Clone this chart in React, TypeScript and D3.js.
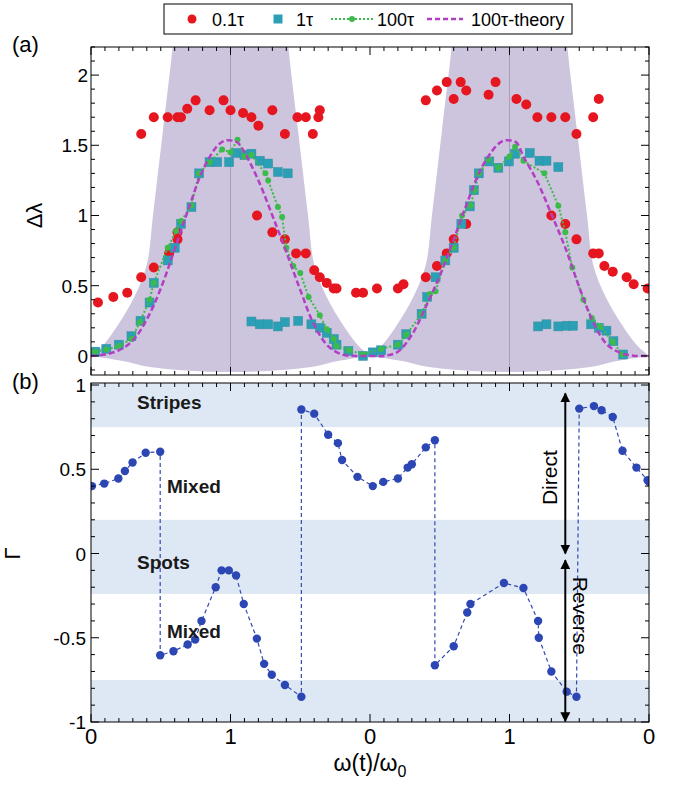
import React from 'react';
import * as d3 from 'd3';

// ---- data ----
// panel (a): x is the phase along the cycle 0..4, shown as ω/ω0 = 0,1,0,1,0
const xTickLabels = ['0', '1', '0', '1', '0'];

const red01: [number, number][] = [
  [0.05, 0.38], [0.16, 0.42], [0.26, 0.45], [0.36, 0.56], [0.36, 1.58], [0.45, 0.63], [0.45, 1.70],
  [0.55, 1.70], [0.56, 0.73], [0.62, 1.70], [0.645, 1.70], [0.62, 0.83], [0.62, 0.88], [0.69, 1.76],
  [0.75, 1.82], [0.85, 1.75], [0.95, 1.82], [1.0, 1.75], [1.09, 1.73], [1.15, 1.70], [1.20, 1.64],
  [1.19, 1.00], [1.30, 1.75], [1.30, 0.88], [1.39, 1.58], [1.39, 0.83], [1.47, 0.73], [1.54, 1.70],
  [1.54, 0.73], [1.48, 1.70], [1.59, 1.58], [1.60, 0.61], [1.64, 1.75], [1.63, 1.70], [1.64, 0.56],
  [1.69, 0.52], [1.74, 0.48], [1.76, 0.48], [1.90, 0.45], [1.95, 0.45], [2.05, 0.48], [2.20, 0.48],
  [2.24, 0.51], [2.40, 0.56], [2.40, 1.82], [2.48, 1.89], [2.48, 0.64], [2.55, 1.95], [2.55, 0.73],
  [2.60, 0.83], [2.60, 1.83], [2.65, 1.95], [2.69, 1.89], [2.69, 0.94], [2.85, 1.86], [2.90, 1.95],
  [3.05, 1.83], [3.12, 1.79], [3.20, 1.70], [3.30, 1.70], [3.30, 1.00], [3.40, 1.70], [3.40, 0.94],
  [3.48, 1.58], [3.48, 0.83], [3.60, 1.70], [3.60, 0.73], [3.64, 1.83], [3.64, 0.73], [3.68, 0.64],
  [3.74, 0.60], [3.84, 0.56], [3.89, 0.51], [3.99, 0.48],
];

const teal1: [number, number][] = [
  [0.03, 0.03], [0.11, 0.05], [0.20, 0.08], [0.29, 0.14], [0.355, 0.25], [0.42, 0.38], [0.45, 0.52],
  [0.55, 0.68], [0.60, 0.77], [0.645, 0.94], [0.72, 1.06], [0.775, 1.30], [0.85, 1.38], [0.905, 1.38],
  [0.99, 1.38], [1.04, 1.445], [1.10, 1.43], [1.15, 1.44], [1.21, 1.39], [1.27, 1.37], [1.34, 1.31],
  [1.41, 1.30], [1.15, 0.245], [1.21, 0.225], [1.27, 0.225], [1.34, 0.21], [1.39, 0.24], [1.485, 0.25],
  [1.58, 0.225], [1.64, 0.20], [1.69, 0.165], [1.74, 0.12], [1.76, 0.08], [1.845, 0.035], [1.95, 0.0],
  [2.02, 0.025], [2.08, 0.04], [2.20, 0.08], [2.26, 0.155], [2.37, 0.30], [2.41, 0.42], [2.47, 0.56],
  [2.54, 0.68], [2.60, 0.77], [2.655, 0.94], [2.715, 1.065], [2.745, 1.18], [2.78, 1.30], [2.855, 1.385],
  [2.92, 1.34], [2.995, 1.385], [3.04, 1.44], [3.145, 1.445], [3.215, 1.39], [3.265, 1.39], [3.35, 1.345],
  [3.205, 0.21], [3.265, 0.225], [3.35, 0.21], [3.41, 0.215], [3.455, 0.215], [3.585, 0.225],
  [3.64, 0.20], [3.695, 0.18], [3.745, 0.105], [3.815, 0.01],
];

const green100: [number, number][] = [
  [0.03, 0.03], [0.11, 0.045], [0.20, 0.07], [0.29, 0.12], [0.35, 0.24], [0.42, 0.40], [0.45, 0.52],
  [0.55, 0.77], [0.61, 0.89], [0.645, 0.96], [0.72, 1.07], [0.775, 1.30], [0.85, 1.38], [0.94, 1.47],
  [1.0, 1.45], [1.05, 1.54], [1.10, 1.42], [1.15, 1.43], [1.25, 1.30], [1.27, 1.25], [1.34, 1.06],
  [1.37, 0.99], [1.40, 0.77], [1.45, 0.64], [1.50, 0.59], [1.56, 0.42], [1.64, 0.29], [1.69, 0.19],
  [1.74, 0.12], [1.76, 0.07], [1.85, 0.04], [1.95, 0.01], [2.08, 0.05], [2.20, 0.08], [2.26, 0.15],
  [2.37, 0.30], [2.43, 0.44], [2.47, 0.46], [2.54, 0.68], [2.60, 0.77], [2.66, 1.00], [2.72, 1.07],
  [2.75, 1.18], [2.78, 1.30], [2.85, 1.40], [2.92, 1.34], [3.00, 1.42], [3.04, 1.49], [3.10, 1.39],
  [3.25, 1.30], [3.35, 1.07], [3.40, 0.88], [3.45, 0.63], [3.53, 0.40], [3.59, 0.27], [3.65, 0.21],
  [3.74, 0.10], [3.81, 0.01],
];

const theory100: [number, number][] = [
  [0, 0], [0.1, 0.01], [0.2, 0.04], [0.3, 0.11], [0.4, 0.26], [0.5, 0.48], [0.6, 0.76], [0.7, 1.05],
  [0.8, 1.32], [0.9, 1.49], [0.95, 1.53], [1.0, 1.535], [1.05, 1.52], [1.1, 1.45], [1.2, 1.25],
  [1.3, 1.0], [1.4, 0.74], [1.5, 0.47], [1.6, 0.22], [1.7, 0.07], [1.8, 0.01], [1.9, 0], [2.0, 0],
  [2.1, 0.0], [2.2, 0.03], [2.3, 0.15], [2.4, 0.35], [2.5, 0.57], [2.6, 0.83], [2.7, 1.10], [2.8, 1.34],
  [2.9, 1.49], [2.95, 1.53], [3.0, 1.535], [3.05, 1.52], [3.1, 1.42], [3.2, 1.24], [3.3, 1.01],
  [3.4, 0.77], [3.5, 0.49], [3.6, 0.24], [3.7, 0.08], [3.8, 0.02], [3.9, 0], [4.0, 0],
];

// shaded region around each resonance: [half width, Δλ] for the upper edges, [offset, Δλ] for the lower edge
const shadeCenters = [1, 3];
const shadeUpper: [number, number][] = [
  [1.0, 0], [0.91, 0.08], [0.80, 0.23], [0.69, 0.42], [0.60, 0.65], [0.556, 1.0], [0.485, 1.6], [0.415, 2.2], [0.40, 2.4],
];
const shadeLower: [number, number][] = [
  [1.0, 0], [0.77, -0.036], [0.6, -0.075], [0.3, -0.105], [0, -0.115],
];

// panel (b)
const gamma: [number, number][] = [
  [0.007, 0.40], [0.095, 0.415], [0.196, 0.445], [0.243, 0.49], [0.298, 0.54], [0.392, 0.598], [0.496, 0.604],
  [0.496, -0.604], [0.591, -0.58], [0.693, -0.54], [0.747, -0.51], [0.792, -0.40], [0.894, -0.20],
  [0.936, -0.10], [0.988, -0.10], [1.040, -0.13], [1.095, -0.30], [1.189, -0.505], [1.241, -0.655],
  [1.296, -0.72], [1.390, -0.78], [1.508, -0.85], [1.508, 0.855], [1.60, 0.83], [1.70, 0.705],
  [1.77, 0.655], [1.80, 0.555], [1.91, 0.455], [2.02, 0.40], [2.095, 0.425], [2.20, 0.445], [2.27, 0.51],
  [2.30, 0.53], [2.40, 0.63], [2.465, 0.672], [2.465, -0.663], [2.60, -0.55], [2.697, -0.35], [2.72, -0.30],
  [2.96, -0.175], [3.10, -0.205], [3.205, -0.40], [3.21, -0.50], [3.30, -0.70], [3.41, -0.82], [3.48, -0.85],
  [3.50, 0.86], [3.605, 0.875], [3.66, 0.85], [3.74, 0.81], [3.81, 0.61], [3.91, 0.51], [3.99, 0.435], [4.0, 0.425],
];
const bands: [number, number][] = [[0.75, 1.02], [-0.24, 0.2], [-1, -0.75]];
const regionLabels = [
  { text: 'Stripes', x: 0.33, y: 0.855 },
  { text: 'Mixed', x: 0.545, y: 0.36 },
  { text: 'Spots', x: 0.33, y: -0.09 },
  { text: 'Mixed', x: 0.545, y: -0.5 },
];
const arrowX = 3.4;

const FONT = 'Liberation Sans, Arial, sans-serif';
const C = {
  red: '#e5161f', teal: '#2a9fb6', green: '#3dbb4a', magenta: '#b23fc4',
  shade: '#cdc5dd', blue: '#2c46b4', band: '#dde8f4',
};

const L = 91, R = 649;
const x = d3.scaleLinear().domain([0, 4]).range([L, R]);
const yA = d3.scaleLinear().domain([-0.136, 2.2]).range([375, 47]);
const yB = d3.scaleLinear().domain([-1, 1.012]).range([722, 383]);

function Ticks({ y }: { y: d3.ScaleLinear<number, number> }) {
  const [y0, y1] = y.range();
  const [d0, d1] = y.domain();
  const xt = d3.range(0, 40.5).map(i => i / 10);
  const yt = d3.range(Math.ceil(d0 * 10), Math.floor(d1 * 10) + 1).map(i => i / 10);
  const out: JSX.Element[] = [];
  xt.forEach((v, i) => {
    const len = Math.abs(v - Math.round(v)) < 1e-6 ? 8 : 4;
    out.push(<line key={'xb' + i} x1={x(v)} x2={x(v)} y1={y0} y2={y0 - len} />);
    out.push(<line key={'xt' + i} x1={x(v)} x2={x(v)} y1={y1} y2={y1 + len} />);
  });
  yt.forEach((v, i) => {
    const len = Math.abs(v * 2 - Math.round(v * 2)) < 1e-6 ? 8 : 4;
    out.push(<line key={'yl' + i} x1={L} x2={L + len} y1={y(v)} y2={y(v)} />);
    out.push(<line key={'yr' + i} x1={R} x2={R - len} y1={y(v)} y2={y(v)} />);
  });
  return <g stroke="#000" strokeWidth={1}>{out}</g>;
}

export default function App() {
  const lineA = d3.line<[number, number]>().x(d => x(d[0])).y(d => yA(d[1]));
  const smooth = d3.line<[number, number]>().x(d => x(d[0])).y(d => yA(d[1])).curve(d3.curveCatmullRom);
  const lineB = d3.line<[number, number]>().x(d => x(d[0])).y(d => yB(d[1]));

  const shadePath = (c: number) => {
    const up: [number, number][] = [
      ...shadeUpper.map(([w, v]) => [c - w, v] as [number, number]),
      ...shadeUpper.slice().reverse().map(([w, v]) => [c + w, v] as [number, number]),
    ];
    const low: [number, number][] = [
      ...shadeLower.map(([d, v]) => [c + d, v] as [number, number]),
      ...shadeLower.slice().reverse().slice(1).map(([d, v]) => [c - d, v] as [number, number]),
    ];
    return (smooth(up) || '') + (smooth(low) || '').replace(/^M/, 'L') + 'Z';
  };

  const yAticks = [0, 0.5, 1, 1.5, 2];
  const yBticks = [-1, -0.5, 0, 0.5, 1];

  return (
    <svg width={674} height={789} style={{ position: 'absolute', left: 0, top: 0, background: '#fff' }} fontFamily={FONT}>
      <defs>
        <clipPath id="clipA"><rect x={L} y={47} width={R - L} height={375 - 47} /></clipPath>
        <clipPath id="clipB"><rect x={L} y={383} width={R - L} height={722 - 383} /></clipPath>
        <marker id="ah" viewBox="0 0 10 10" refX="9" refY="5" markerWidth="5" markerHeight="6" orient="auto-start-reverse">
          <path d="M0,0 L10,5 L0,10 z" fill="#000" />
        </marker>
      </defs>

      {/* legend */}
      <rect x={164} y={4} width={408} height={30} fill="#fff" stroke="#000" strokeWidth={1} />
      <g fontSize={18} fill="#000">
        <circle cx={192} cy={19} r={4.5} fill={C.red} />
        <text x={212} y={26}>0.1τ</text>
        <rect x={273.5} y={14.5} width={9} height={9} fill={C.teal} />
        <text x={296} y={26}>1τ</text>
        <line x1={331} x2={373} y1={19} y2={19} stroke={C.green} strokeWidth={2} strokeDasharray="2,2" />
        <circle cx={352} cy={19} r={3} fill={C.green} />
        <text x={377} y={26}>100τ</text>
        <line x1={427} x2={463} y1={19} y2={19} stroke={C.magenta} strokeWidth={2.5} strokeDasharray="5,3" />
        <text x={471} y={26}>100τ-theory</text>
      </g>

      {/* panel (a) */}
      <g clipPath="url(#clipA)">
        {shadeCenters.map(c => <path key={c} d={shadePath(c)} fill={C.shade} />)}
        {shadeCenters.map(c => <line key={'v' + c} x1={x(c)} x2={x(c)} y1={47} y2={375} stroke="#a89cbd" strokeWidth={1} />)}
        {red01.map((d, i) => <circle key={'r' + i} cx={x(d[0])} cy={yA(d[1])} r={5} fill={C.red} />)}
        {teal1.map((d, i) => <rect key={'t' + i} x={x(d[0]) - 4.5} y={yA(d[1]) - 4.5} width={9} height={9} fill={C.teal} stroke="#3a8fa0" strokeWidth={0.5} />)}
        <path d={lineA(green100) || ''} fill="none" stroke={C.green} strokeWidth={2} strokeDasharray="2,2" />
        {green100.map((d, i) => <circle key={'g' + i} cx={x(d[0])} cy={yA(d[1])} r={3} fill={C.green} />)}
        <path d={smooth(theory100) || ''} fill="none" stroke={C.magenta} strokeWidth={2.5} strokeDasharray="6,3" />
      </g>
      <rect x={L} y={47} width={R - L} height={375 - 47} fill="none" stroke="#000" strokeWidth={1} />
      <Ticks y={yA} />
      <g fontSize={19} textAnchor="end">
        {yAticks.map(v => <text key={v} x={88} y={yA(v) + 7}>{String(v)}</text>)}
      </g>
      <text transform={`translate(42,${yA(1)}) rotate(-90)`} fontSize={22} textAnchor="middle">Δλ</text>
      <text x={12} y={52} fontSize={22}>(a)</text>

      {/* panel (b) */}
      <g clipPath="url(#clipB)">
        {bands.map((b, i) => <rect key={i} x={L} width={R - L} y={yB(b[1])} height={yB(b[0]) - yB(b[1])} fill={C.band} />)}
        <path d={lineB(gamma) || ''} fill="none" stroke="#3449b0" strokeWidth={1.2} strokeDasharray="4,3" />
        {gamma.map((d, i) => <circle key={'b' + i} cx={x(d[0])} cy={yB(d[1])} r={4.2} fill={C.blue} />)}
      </g>
      <rect x={L} y={383} width={R - L} height={722 - 383} fill="none" stroke="#000" strokeWidth={1} />
      <Ticks y={yB} />
      <g fontSize={19} fontWeight="bold" fill="#1a1a1a">
        {regionLabels.map((l, i) => <text key={i} x={x(l.x)} y={yB(l.y)}>{l.text}</text>)}
      </g>
      <g stroke="#000" strokeWidth={2}>
        <line x1={x(arrowX)} x2={x(arrowX)} y1={yB(0.95)} y2={yB(0.0)} markerStart="url(#ah)" markerEnd="url(#ah)" />
        <line x1={x(arrowX)} x2={x(arrowX)} y1={yB(-0.04)} y2={yB(-0.995)} markerStart="url(#ah)" markerEnd="url(#ah)" />
      </g>
      <text transform={`translate(${x(arrowX) - 8},${yB(0.45)}) rotate(-90)`} fontSize={21} textAnchor="middle">Direct</text>
      <text transform={`translate(${x(arrowX) + 8},${yB(-0.37)}) rotate(90)`} fontSize={21} textAnchor="middle">Reverse</text>
      <g fontSize={19} textAnchor="end">
        {yBticks.map(v => <text key={v} x={86} y={yB(v) + 7}>{String(v)}</text>)}
      </g>
      <g fontSize={22} textAnchor="middle">
        {xTickLabels.map((t, i) => <text key={i} x={x(i)} y={744}>{t}</text>)}
      </g>
      <text transform={`translate(20,${yB(0)}) rotate(-90)`} fontSize={22} textAnchor="middle">Γ</text>
      <text x={12} y={389} fontSize={22}>(b)</text>
      <text x={370} y={771} fontSize={23} textAnchor="middle">ω(t)/ω<tspan fontSize={16} dy={6}>0</tspan></text>
    </svg>
  );
}
